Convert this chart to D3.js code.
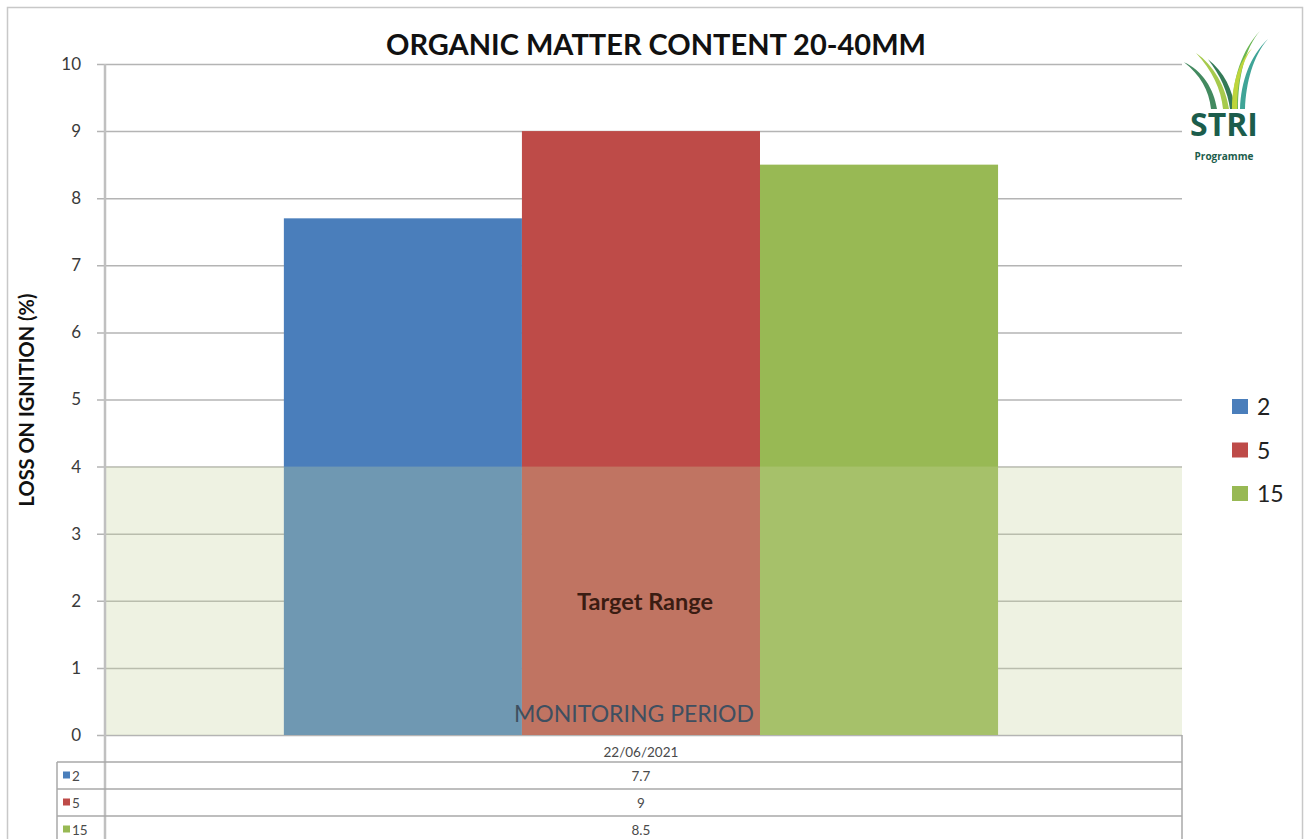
<!DOCTYPE html>
<html>
<head>
<meta charset="utf-8">
<script src="https://cdn.jsdelivr.net/npm/d3@7/dist/d3.min.js"></script>
<style>
  html, body { margin: 0; padding: 0; background: #ffffff; }
  svg { display: block; }
  text { font-family: Lato, "Open Sans", "Liberation Sans", sans-serif; }
</style>
</head>
<body>
<svg id="chart" width="1309" height="839"></svg>
<script>
// Sampling date (single category on the x axis)
const categories = ["22/06/2021"];
// Series: sampling depth labels and loss-on-ignition values (%)
const seriesNames = ["2", "5", "15"];
const seriesValues = [7.7, 9, 8.5];
const seriesColors = ["#4a7ebb", "#be4b48", "#98b954"];
// Y axis ticks
const yTicks = [0, 1, 2, 3, 4, 5, 6, 7, 8, 9, 10];
// Target range band (%)
const targetRange = [0, 4];

const svg = d3.select("#chart");
const W = 1309, H = 839;

// outer chart border
svg.append("rect")
  .attr("x", 7.5).attr("y", 7.5)
  .attr("width", 1295).attr("height", 840)
  .attr("fill", "#ffffff")
  .attr("stroke", "#c8c8c8").attr("stroke-width", 1.5);

const plot = { left: 105, right: 1182, top: 64, bottom: 735 };

const y = d3.scaleLinear().domain([0, 10]).range([plot.bottom, plot.top]);
const x0 = d3.scaleBand().domain(categories)
  .range([plot.left, plot.right]).paddingInner(0).paddingOuter(0.254).align(0.493);
const x1 = d3.scaleBand().domain(seriesNames)
  .range([0, x0.bandwidth()]).padding(0);

// gridlines with tick stubs and labels
const gAxis = svg.append("g")
  .attr("transform", `translate(${plot.right},0)`)
  .call(d3.axisLeft(y).tickValues(yTicks)
    .tickSize(plot.right - plot.left + 8).tickPadding(16)
    .tickFormat(d3.format("d")));
gAxis.select(".domain").remove();
gAxis.selectAll(".tick line").attr("stroke", "#b4b4b4").attr("stroke-width", 1.5);
gAxis.selectAll(".tick text")
  .attr("fill", "#3a3a3a")
  .style("font-size", "17px")
  .style("font-family", "Lato, 'Open Sans', sans-serif");

// bars
const gBars = svg.append("g");
categories.forEach(cat => {
  gBars.selectAll("rect.bar")
    .data(seriesNames.map((s, i) => ({ s, v: seriesValues[i], c: seriesColors[i] })))
    .join("rect")
    .attr("class", "bar")
    .attr("x", d => x0(cat) + x1(d.s))
    .attr("y", d => y(d.v))
    .attr("width", x1.bandwidth())
    .attr("height", d => y(0) - y(d.v))
    .attr("fill", d => d.c);
});

// target range band drawn over the bars
svg.append("rect")
  .attr("x", plot.left)
  .attr("y", y(targetRange[1]))
  .attr("width", plot.right - plot.left)
  .attr("height", y(targetRange[0]) - y(targetRange[1]))
  .attr("fill", "rgb(198,212,158)")
  .attr("opacity", 0.3);

// y axis line
svg.append("line")
  .attr("x1", plot.left).attr("x2", plot.left)
  .attr("y1", plot.top).attr("y2", H)
  .attr("stroke", "#c0c0c0").attr("stroke-width", 2.5);

// band label
svg.append("text")
  .attr("x", 645)
  .attr("y", 610)
  .attr("text-anchor", "middle")
  .attr("fill", "#3a1c12")
  .style("font-size", "23.5px")
  .style("font-weight", "bold")
  .text("Target Range");

// x axis title
svg.append("text")
  .attr("x", 634)
  .attr("y", 722)
  .attr("text-anchor", "middle")
  .attr("fill", "#3e4f60")
  .style("font-size", "23px")
  .text("MONITORING PERIOD");

// data table
const table = { left: 57, right: plot.right, rowH: 27, top: 762 };
const tg = svg.append("g");
const tableFont = "13.5px";
// category header row
tg.append("text")
  .attr("x", x0(categories[0]) + x0.bandwidth() / 2)
  .attr("y", 757)
  .attr("text-anchor", "middle")
  .attr("fill", "#4a4a4a")
  .style("font-size", tableFont)
  .text(categories[0]);

seriesNames.forEach((s, i) => {
  const ry = table.top + i * table.rowH;
  tg.append("line")
    .attr("x1", table.left).attr("x2", table.right)
    .attr("y1", ry).attr("y2", ry)
    .attr("stroke", "#a8a8a8").attr("stroke-width", 1.5);
  tg.append("rect")
    .attr("x", 63).attr("y", ry + table.rowH / 2 - 4)
    .attr("width", 7).attr("height", 7)
    .attr("fill", seriesColors[i]);
  tg.append("text")
    .attr("x", 72).attr("y", ry + table.rowH / 2 + 5)
    .attr("fill", "#4a4a4a")
    .style("font-size", tableFont)
    .text(s);
  tg.append("text")
    .attr("x", x0(categories[0]) + x0.bandwidth() / 2)
    .attr("y", ry + table.rowH / 2 + 5)
    .attr("text-anchor", "middle")
    .attr("fill", "#4a4a4a")
    .style("font-size", tableFont)
    .text(seriesValues[i]);
});
tg.append("line")
  .attr("x1", table.left).attr("x2", table.left)
  .attr("y1", table.top).attr("y2", H)
  .attr("stroke", "#a8a8a8").attr("stroke-width", 1.5);
tg.append("line")
  .attr("x1", table.right).attr("x2", table.right)
  .attr("y1", plot.bottom).attr("y2", H)
  .attr("stroke", "#a8a8a8").attr("stroke-width", 1.5);

// chart title
svg.append("text")
  .attr("x", 656)
  .attr("y", 55)
  .attr("text-anchor", "middle")
  .attr("fill", "#111")
  .style("font-size", "29px")
  .style("font-weight", "bold")
  .text("ORGANIC MATTER CONTENT 20-40MM");

// y axis title
svg.append("text")
  .attr("transform", "translate(34,400) rotate(-90)")
  .attr("text-anchor", "middle")
  .attr("fill", "#111")
  .style("font-size", "20px")
  .style("font-weight", "bold")
  .text("LOSS ON IGNITION (%)");

// legend
const lg = svg.append("g").attr("transform", "translate(1232,407)");
seriesNames.forEach((s, i) => {
  const row = lg.append("g").attr("transform", `translate(0,${i * 43.5})`);
  row.append("rect").attr("x", 0).attr("y", -8).attr("width", 16).attr("height", 15)
    .attr("fill", seriesColors[i]);
  row.append("text").attr("x", 25).attr("y", 8)
    .attr("fill", "#222")
    .style("font-size", "23px")
    .text(s);
});

// programme logo: grass blades and wordmark
const logo = svg.append("g").attr("transform", "translate(1180,26)");
const blades = [
  { d: "M4,44 C22,54 34,78 37,104 L31,104 C29,80 20,60 4,44 Z", c: "#2f7d4f" },
  { d: "M16,32 C34,48 46,76 49,104 L43,104 C41,78 32,54 16,32 Z", c: "#9cc43a" },
  { d: "M28,40 C44,56 53,80 55,104 L50,104 C48,82 40,60 28,40 Z", c: "#1e6b45" },
  { d: "M80,4 C65,26 58,64 58,104 L52,104 C53,64 62,28 80,4 Z", c: "#5aae3f" },
  { d: "M88,14 C73,36 66,70 65,104 L60,104 C61,68 70,36 88,14 Z", c: "#2a9a8c" },
  { d: "M72,26 C61,44 57,74 57,104 L52,104 C52,74 58,44 72,26 Z", c: "#c8d83a" }
];
logo.append("g").attr("transform", "translate(0,2) scale(1,0.78)")
  .selectAll("path").data(blades).join("path")
  .attr("d", d => d.d).attr("fill", d => d.c).attr("opacity", 0.9);
logo.append("text")
  .attr("x", 44).attr("y", 110)
  .attr("text-anchor", "middle")
  .attr("fill", "#1c5d4c")
  .style("font-size", "32px")
  .style("font-weight", "bold")
  .style("font-family", "'Liberation Sans Narrow', 'Open Sans', sans-serif")
  .text("STRI");
logo.append("text")
  .attr("x", 44).attr("y", 134)
  .attr("text-anchor", "middle")
  .attr("fill", "#1c5d4c")
  .style("font-size", "10px")
  .style("font-weight", "bold")
  .style("font-family", "'Liberation Sans Narrow', 'Open Sans', sans-serif")
  .text("Programme");
</script>
</body>
</html>
